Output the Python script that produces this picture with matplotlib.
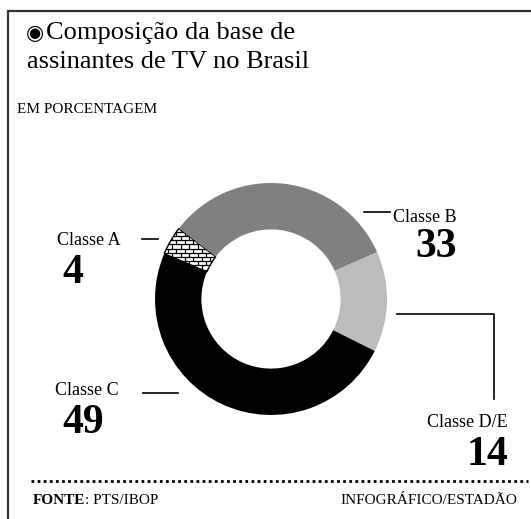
import numpy as np
import matplotlib.pyplot as plt
from matplotlib.collections import LineCollection

# dados (em porcentagem)
classes = ['Classe A', 'Classe B', 'Classe D/E', 'Classe C']
values = [4, 33, 14, 49]
colors = ['white', '#808080', '#bcbcbc', 'black']

plt.rcParams['font.family'] = ['Liberation Serif', 'DejaVu Sans']

W, H = 531, 519
fig = plt.figure(figsize=(W / 100, H / 100), dpi=100)
fig.patch.set_facecolor('white')

# overlay in pixel coords for frame, texts and leader lines
bg = fig.add_axes([0, 0, 1, 1])
bg.set_xlim(0, W)
bg.set_ylim(H, 0)
bg.axis('off')

# donut
cx, cy, r = 271, 299, 116
ax = fig.add_axes([(cx - r) / W, (H - cy - r) / H, 2 * r / W, 2 * r / H])
wedges, _ = ax.pie(values, colors=colors, startangle=157, counterclock=False,
                   radius=1, wedgeprops=dict(width=0.4, edgecolor='none'))
ax.set_xlim(-1, 1)
ax.set_ylim(-1, 1)

# brick pattern for Classe A
wa = wedges[0]
wa.set_edgecolor('black')
wa.set_linewidth(1.0)
h = 4.2 / r
w = 8.5 / r
segs = []
for i, y0 in enumerate(np.arange(0.0, 1.0, h)):
    segs.append([(-1, y0), (0, y0)])
    off = (i % 2) * w / 2
    for x0 in np.arange(-1 + off, 0, w):
        segs.append([(x0, y0), (x0, y0 + h)])
lc = LineCollection(segs, colors='black', linewidths=0.9)
ax.add_collection(lc)
lc.set_clip_path(wa)

# frame
bg.plot([8, 8], [11, H], color='#333333', lw=1.6, solid_capstyle='butt')
bg.plot([7, W], [11, 11], color='#333333', lw=1.6, solid_capstyle='butt')

# title
bg.text(26, 38.5, '\u25c9', fontsize=15, family='DejaVu Sans', va='baseline')
bg.text(46, 38.5, 'Composição da base de', fontsize=19, va='baseline')
bg.text(27, 68.5, 'assinantes de TV no Brasil', fontsize=19, va='baseline')
bg.text(17, 113, 'EM PORCENTAGEM', fontsize=11, va='baseline')

# labels
lab = dict(fontsize=13, va='baseline')
num = dict(fontsize=30, fontweight='bold', va='baseline')
bg.text(57, 245, classes[0], **lab)
bg.text(62, 283, str(values[0]), **num)
bg.plot([142, 158], [239, 239], color='black', lw=1.2)

bg.text(393, 222, classes[1], **lab)
bg.text(415, 257, str(values[1]), **num)
bg.plot([364, 390], [212, 212], color='black', lw=1.2)

bg.text(508, 427, classes[2], ha='right', **lab)
bg.text(508, 465, str(values[2]), ha='right', **num)
bg.plot([397, 494, 494], [314, 314, 399], color='black', lw=1.2)

bg.text(55, 395, classes[3], **lab)
bg.text(62, 433, str(values[3]), **num)
bg.plot([143, 178], [393, 393], color='black', lw=1.2)

# footer
bg.plot([31, 528], [481, 481], color='black', lw=2, linestyle=(0, (1, 1.2)))
fonte = bg.text(33, 504, 'FONTE', fontsize=11, fontweight='bold', va='baseline')
bg.annotate(': PTS/IBOP', xy=(1, 0), xycoords=fonte, va='bottom', fontsize=11)
bg.text(517, 504, 'INFOGRÁFICO/ESTADÃO', fontsize=11, ha='right', va='baseline')

fig.savefig('out.png', dpi=100)
